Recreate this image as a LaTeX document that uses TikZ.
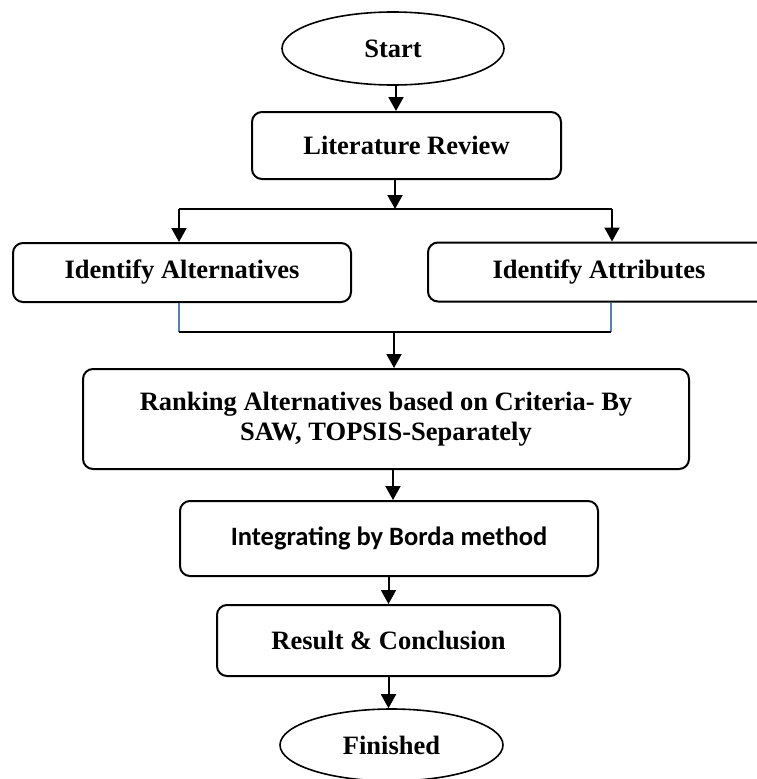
\documentclass[tikz,border=0pt]{standalone}
\usepackage{fontspec}
\setmainfont{Liberation Serif}
\newfontfamily\calibrifont{Carlito}
\usetikzlibrary{shapes.geometric,arrows.meta}
\definecolor{linkblue}{RGB}{79,129,189}
\tikzset{
  box/.style={draw, line width=2pt, rounded corners=10pt, font=\fontsize{26.5}{30}\selectfont\bfseries, align=center, inner sep=0pt},
  oval/.style={draw, line width=1.6pt, ellipse, font=\fontsize{26.5}{30}\selectfont\bfseries, inner sep=0pt},
  arr/.style={line width=2pt, -{Triangle[width=15pt,length=14pt]}},
  conn/.style={line width=2pt},
  bluel/.style={draw=linkblue, line width=1.5pt}
}
\begin{document}
\begin{tikzpicture}[x=1pt,y=-1pt]
\useasboundingbox (0,0) rectangle (757,779);
\clip (0,0) rectangle (757,779);
\node[oval, minimum width=222pt, minimum height=73pt] (start) at (393,48.5) {Start};
\node[box, minimum width=309pt, minimum height=67pt] (lit) at (406.5,145.5) {Literature Review};
\node[box, minimum width=338pt, minimum height=59pt] (alt) at (182,272.5) {Identify Alternatives};
\node[box, minimum width=342pt, minimum height=59pt] (attr) at (599,272) {Identify Attributes};
\node[box, minimum width=606pt, minimum height=100pt] (rank) at (386,419) {Ranking Alternatives based on Criteria- By\\SAW, TOPSIS-Separately};
\node[box, minimum width=418pt, minimum height=75pt, font=\fontsize{26.5}{30}\selectfont\calibrifont\bfseries] (integ) at (389,538.5) {Integrating by Borda method};
\node[box, minimum width=343pt, minimum height=71pt] (res) at (388.5,640.5) {Result \& Conclusion};
\node[oval, minimum width=223pt, minimum height=72pt] (fin) at (391.5,745) {Finished};

\coordinate (topA) at (396,85);
\coordinate (split) at (395,209);
\coordinate (splitL) at (179,209);
\coordinate (splitR) at (612,209);
\coordinate (blueL) at (179,332);
\coordinate (blueR) at (611,332);
\coordinate (merge) at (394,332);
\coordinate (midA) at (393,469);

\draw[arr] (topA) -- (topA |- lit.north);
\draw[arr] (split |- lit.south) -- (split);
\draw[conn] (splitL) -- (splitR);
\draw[arr] (splitL) -- (splitL |- alt.north);
\draw[arr] (splitR) -- (splitR |- attr.north);
\draw[bluel] (blueL |- alt.south) -- (blueL);
\draw[bluel] (blueR |- attr.south) -- (blueR);
\draw[conn] (blueL) -- (blueR);
\draw[arr] (merge) -- (merge |- rank.north);
\draw[arr] (midA) -- (midA |- integ.north);
\draw[arr] (integ.south -| res.north) -- (res.north);
\draw[arr] (res.south) -- (res.south |- fin.north);
\end{tikzpicture}
\end{document}
